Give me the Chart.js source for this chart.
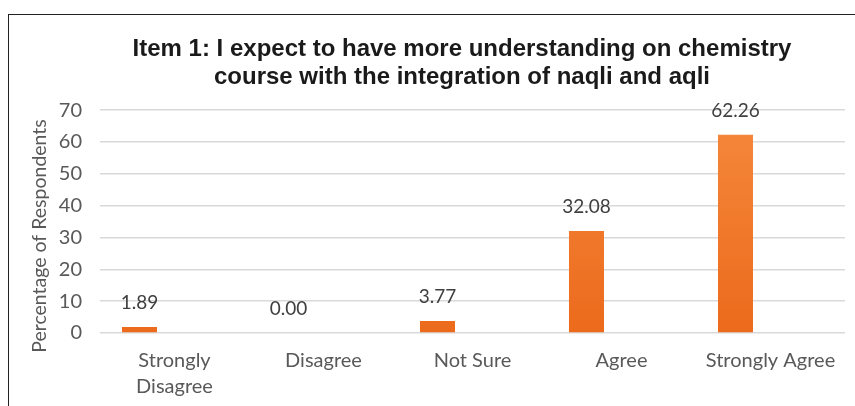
<!DOCTYPE html>
<html>
<head>
<meta charset="utf-8">
<script src="https://cdn.jsdelivr.net/npm/chart.js@4"></script>
<style>
  html, body { margin: 0; padding: 0; background: #fff; }
  #wrap { position: relative; width: 855px; height: 406px; overflow: hidden; }
  #frame { position: absolute; left: 8px; top: 14px; width: 900px; height: 500px; border: 1px solid #222; }
  canvas { position: absolute; left: 0; top: 0; }
</style>
</head>
<body>
<div id="wrap">
  <div id="frame"></div>
  <canvas id="graph" width="855" height="406"></canvas>
</div>
<script>
// réponses à l'item 1 (pourcentages)
const categories = [['Strongly', 'Disagree'], 'Disagree', 'Not Sure', 'Agree', 'Strongly Agree']
const percentages = [1.89, 0.00, 3.77, 32.08, 62.26]
const emptySeries = [null, null, null, null, null] // 2e série vide, décale les barres à gauche comme dans Excel
const yTicks = [0, 10, 20, 30, 40, 50, 60, 70]
const yAxisTitle = 'Percentage of Respondents'

const PLOT_LEFT = 100
const PLOT_BOTTOM = 333
const TITLE_LEFT = 79 // le titre est centré sur la zone de tracé, pas sur tout le canvas

// titre du titre centré, titre de l'axe Y et valeurs au-dessus des barres
const valueLabels = {
  id: 'valueLabels',
  afterLayout(chart) {
    if (chart.titleBlock) chart.titleBlock.left = TITLE_LEFT
  },
  afterDatasetsDraw(chart) {
    const ctx = chart.ctx
    const meta = chart.getDatasetMeta(0)
    ctx.save()
    ctx.font = '19px Lato'
    ctx.fillStyle = '#404040'
    ctx.textAlign = 'center'
    ctx.textBaseline = 'middle'
    meta.data.forEach((bar, i) => {
      ctx.fillText(percentages[i].toFixed(2), bar.x, bar.y - 24)
    })

    // titre vertical de l'axe Y, un peu plus bas que le centre de l'axe
    ctx.translate(40, 236)
    ctx.rotate(-Math.PI / 2)
    ctx.font = '19.5px Lato'
    ctx.fillStyle = '#595959'
    ctx.fillText(yAxisTitle, 0, 0)
    ctx.restore()
  }
}

function orangeGradient(context) {
  const area = context.chart.chartArea
  if (!area) return '#ED7D31'
  const g = context.chart.ctx.createLinearGradient(0, area.top, 0, area.bottom)
  g.addColorStop(0, '#F5893C')
  g.addColorStop(1, '#EC6A1C')
  return g
}

document.addEventListener('DOMContentLoaded', function () {
  const config = {
    type: 'bar',
    data: {
      labels: categories,
      datasets: [{
        label: 'Item 1',
        data: percentages,
        backgroundColor: orangeGradient,
        categoryPercentage: 0.94,
        barPercentage: 0.5
      }, {
        label: 'vide',
        data: emptySeries,
        backgroundColor: '#A5A5A5',
        categoryPercentage: 0.94,
        barPercentage: 0.5
      }]
    },
    options: {
      responsive: false,
      animation: false,
      layout: { padding: { left: 0, right: 10, top: 0, bottom: 0 } },
      plugins: {
        legend: { display: false },
        tooltip: { enabled: false },
        title: {
          display: true,
          text: ['Item 1: I expect to have more understanding on chemistry', 'course with the integration of naqli and aqli'],
          color: '#1a1a1a',
          font: { family: 'Liberation Sans', size: 24, weight: 'bold', lineHeight: 1.17 },
          padding: { top: 35, bottom: 19 }
        }
      },
      scales: {
        x: {
          grid: { display: false, drawTicks: false },
          border: { display: false },
          ticks: {
            color: '#595959',
            font: { family: 'Lato', size: 20, lineHeight: 1.3 },
            padding: 15,
            maxRotation: 0,
            autoSkip: false
          },
          afterFit(scale) { scale.height = 406 - PLOT_BOTTOM }
        },
        y: {
          min: 0,
          max: 70,
          afterBuildTicks(scale) { scale.ticks = yTicks.map(v => ({ value: v })) },
          grid: { color: '#D9D9D9', lineWidth: 1.5, drawTicks: false },
          border: { display: false },
          ticks: {
            color: '#595959',
            font: { family: 'Lato', size: 20 },
            padding: 18
          },
          afterFit(scale) { scale.width = PLOT_LEFT }
        }
      }
    },
    plugins: [valueLabels]
  }

  new Chart(document.getElementById('graph'), config)
})
</script>
</body>
</html>
